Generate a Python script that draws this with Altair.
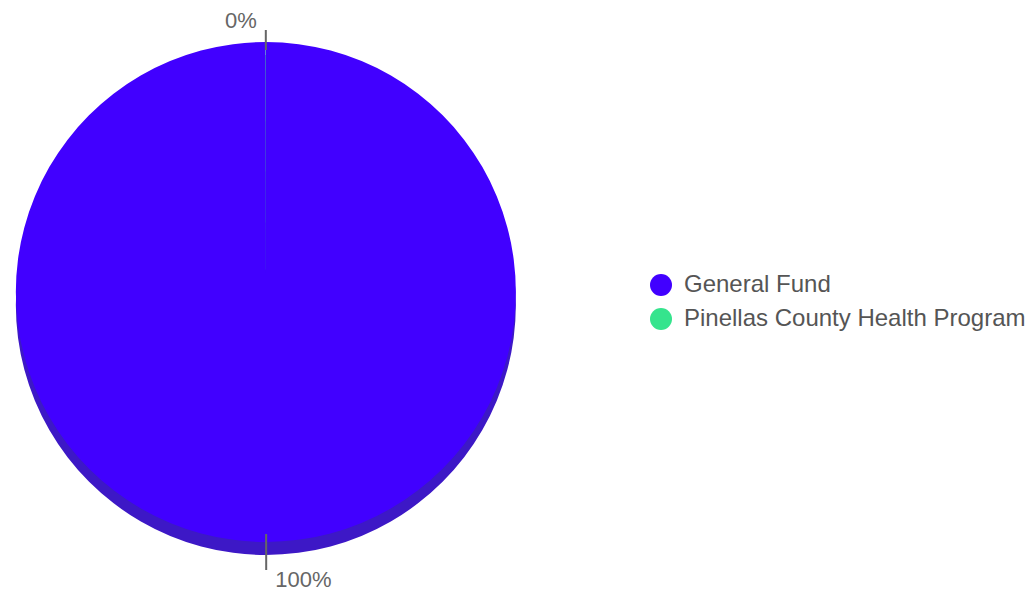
import altair as alt
import pandas as pd

categories = ["General Fund", "Pinellas County Health Program"]
values = [99.98, 0.02]
top_colors = ["#4100ff", "#35e48d"]
side_colors = ["#3d18c6", "#2cb673"]

df = pd.DataFrame({"category": categories, "value": values, "idx": list(range(len(categories)))})

PAD_TOP = 20
CX, CY, R, DEPTH = 258, 284 - PAD_TOP, 250, 13

base = alt.Chart(df)

side = base.mark_arc(outerRadius=R, stroke=None).encode(
    theta=alt.Theta("value:Q", stack=True),
    order=alt.Order("idx:Q"),
    color=alt.Color("category:N", scale=alt.Scale(domain=categories, range=side_colors), legend=None),
    x=alt.value(CX), y=alt.value(CY + DEPTH),
)

top = base.mark_arc(outerRadius=R, stroke=None).encode(
    theta=alt.Theta("value:Q", stack=True),
    order=alt.Order("idx:Q"),
    color=alt.Color("category:N", scale=alt.Scale(domain=categories, range=top_colors),
                    legend=alt.Legend(title=None)),
    x=alt.value(CX), y=alt.value(CY),
)

geo = base.transform_joinaggregate(total="sum(value)").transform_window(
    cum="sum(value)", sort=[alt.SortField("idx")], frame=[None, 0]
).transform_calculate(
    mid="(datum.cum - datum.value/2) / datum.total * 2 * PI",
    pct="format(round(datum.value / datum.total * 100), 'd') + '%'",
).transform_calculate(
    down="max(0, -cos(datum.mid))",
    sgn="sin(datum.mid) >= 0 ? 1 : -1",
).transform_calculate(
    x1=f"{CX} + sin(datum.mid) * {R - 8}",
    y1=f"{CY} - cos(datum.mid) * {R - 8}",
    x2=f"{CX} + sin(datum.mid) * ({R + 12} + datum.down * 16)",
    y2=f"{CY} - cos(datum.mid) * ({R + 12} + datum.down * 16)",
    tx=f"{CX} + sin(datum.mid) * ({R + 21} + datum.down * 17) + datum.sgn * 9",
    ty=f"{CY} - cos(datum.mid) * ({R + 21} + datum.down * 17)",
)

lines = geo.mark_rule(color="#666666", strokeWidth=2).encode(
    x=alt.X("x1:Q", scale=None), y=alt.Y("y1:Q", scale=None),
    x2="x2:Q", y2="y2:Q",
)

left_labels = geo.transform_filter("datum.sgn < 0").mark_text(
    font="Liberation Sans", fontSize=22, color="#666666", align="right", baseline="middle"
).encode(x=alt.X("tx:Q", scale=None), y=alt.Y("ty:Q", scale=None), text="pct:N")

right_labels = geo.transform_filter("datum.sgn >= 0").mark_text(
    font="Liberation Sans", fontSize=22, color="#666666", align="left", baseline="middle"
).encode(x=alt.X("tx:Q", scale=None), y=alt.Y("ty:Q", scale=None), text="pct:N")

chart = alt.layer(side, top, lines, left_labels, right_labels).resolve_scale(
    color="independent"
).properties(
    width=1017, height=588 - PAD_TOP,
    autosize=alt.AutoSizeParams(type="none"),
    padding={"top": PAD_TOP, "left": 0, "right": 0, "bottom": 0},
).configure_view(stroke=None).configure_legend(
    orient="none", legendX=641, legendY=265 - PAD_TOP, padding=0,
    labelFont="Liberation Sans", labelFontSize=24, labelColor="#555555",
    symbolType="circle", symbolSize=484, symbolStrokeWidth=0, symbolOpacity=1,
    labelOffset=11, rowPadding=10, labelLimit=600,
)

chart.save("out.html", embed_options={"renderer": "svg", "actions": False})
